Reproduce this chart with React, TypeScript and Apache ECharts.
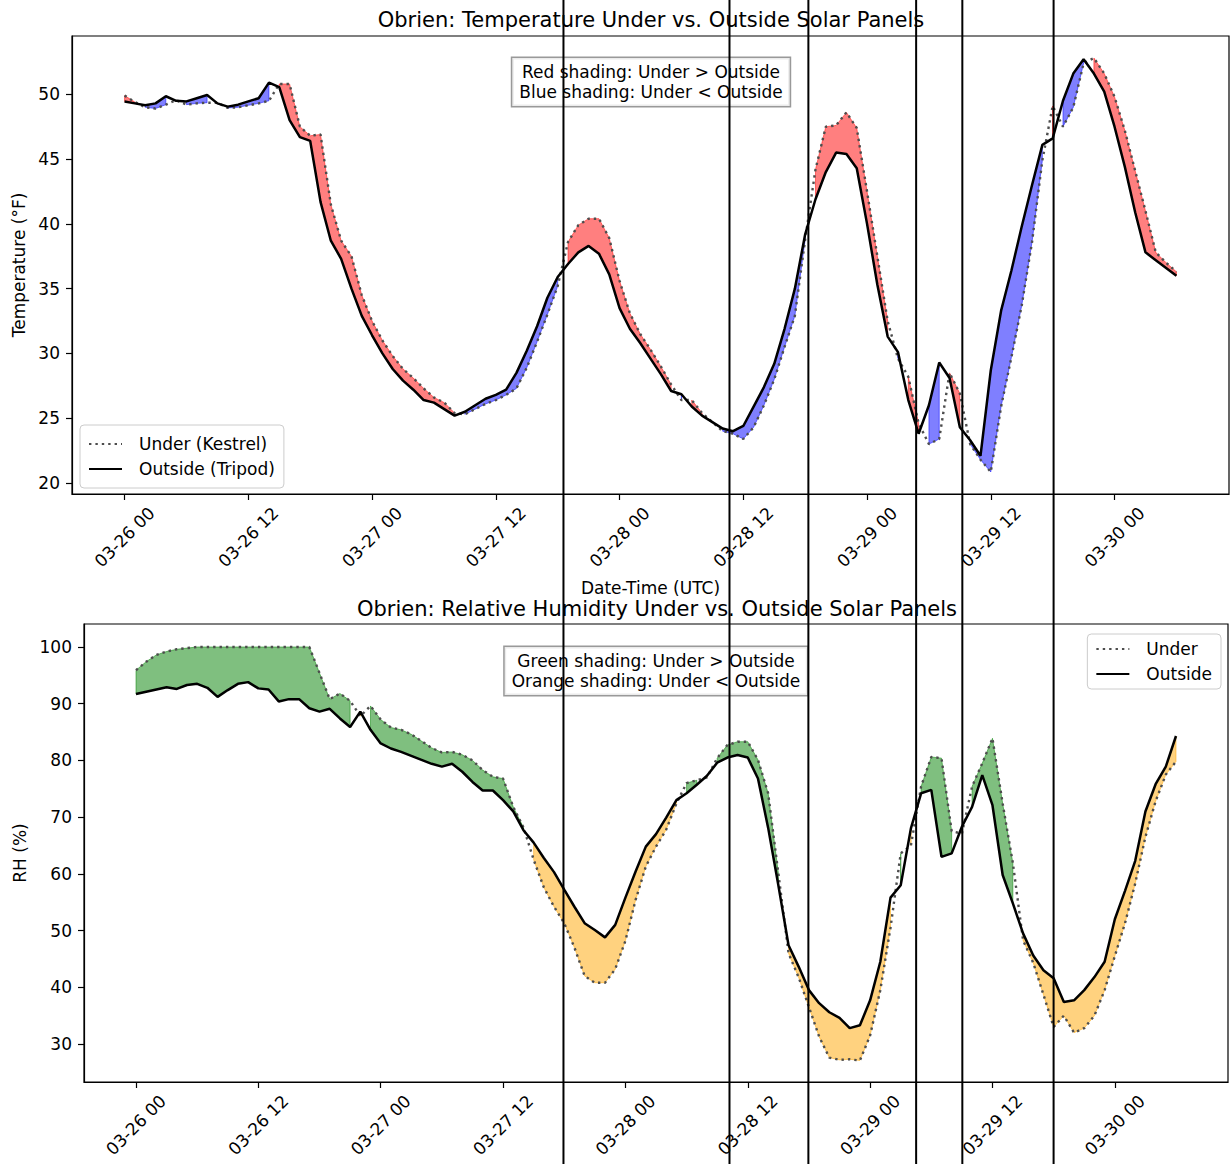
import React, { useEffect, useRef } from 'react';
import * as echarts from 'echarts';

// hourly sampling grid (hours since 03-26 00:00 UTC)
const HOURS: number[] = Array.from({ length: 103 }, (_, i) => i);

const X_TICK_HOURS = [0, 12, 24, 36, 48, 60, 72, 84, 96];
const X_TICK_LABELS = ['03-26 00', '03-26 12', '03-27 00', '03-27 12', '03-28 00', '03-28 12', '03-29 00', '03-29 12', '03-30 00'];
const TEMP_TICKS = [20, 25, 30, 35, 40, 45, 50];
const RH_TICKS = [30, 40, 50, 60, 70, 80, 90, 100];
const MARKER_HOURS = [42.56, 58.66, 66.31, 76.76, 81.24, 90.09];

const TEMP_OUTSIDE = [
  49.45, 49.3, 49.15, 49.3, 49.85, 49.5, 49.45, 49.7, 49.95, 49.3,
  49.05, 49.2, 49.45, 49.7, 50.9, 50.55, 48.0, 46.7, 46.4, 41.7,
  38.7, 37.3, 35.0, 32.9, 31.4, 30.0, 28.8, 27.9, 27.2, 26.4,
  26.2, 25.7, 25.2, 25.5, 26.0, 26.5, 26.8, 27.2, 28.5, 30.2,
  32.1, 34.3, 35.9, 36.9, 37.8, 38.3, 37.7, 36.1, 33.5, 31.9,
  30.8, 29.6, 28.4, 27.1, 26.85, 25.9, 25.2, 24.7, 24.2, 24.0,
  24.4, 25.9, 27.4, 29.2, 31.9, 35.0, 39.2, 41.9, 44.0, 45.5,
  45.4, 44.3, 40.0, 35.3, 31.3, 30.1, 26.4, 23.8, 26.0, 29.3,
  28.1, 24.3, 23.3, 22.1, 28.7, 33.3, 36.4, 39.8, 43.0, 46.1,
  46.6, 49.5, 51.6, 52.7, 51.6, 50.2, 47.5, 44.4, 40.9, 37.8,
  37.2, 36.6, 36.0,
];

const TEMP_UNDER = [
  49.9, 49.4, 49.0, 48.9, 49.2, 49.55, 49.2, 49.3, 49.35, 49.35,
  48.95, 49.0, 49.15, 49.3, 49.5, 50.8, 50.8, 47.5, 46.8, 46.9,
  41.5, 38.7, 37.5, 34.5, 32.5, 31.0, 29.8, 28.8, 28.1, 27.3,
  26.6, 26.2, 25.4, 25.3, 25.7, 26.1, 26.4, 26.8, 27.3, 28.9,
  30.9, 33.0, 35.2, 38.6, 39.9, 40.4, 40.4, 38.9, 35.6, 33.1,
  31.5, 30.3, 29.0, 27.6, 26.4, 26.4, 25.4, 24.7, 24.0, 23.8,
  23.4, 24.3, 26.0, 28.0, 30.5, 32.9, 38.8, 44.2, 47.5, 47.6,
  48.6, 47.4, 42.5, 37.5, 32.5, 29.6, 28.2, 24.6, 23.0, 23.4,
  28.5, 26.9, 23.0, 21.8, 20.85, 25.9, 29.7, 33.7, 38.6, 44.9,
  49.1, 47.5, 49.0, 52.4, 52.8, 51.6, 49.8, 47.2, 44.1, 41.0,
  37.8, 37.0, 36.3,
];

const RH_OUTSIDE = [
  91.7, 92.1, 92.5, 92.9, 92.6, 93.3, 93.5, 92.8, 91.2, 92.4,
  93.5, 93.8, 92.7, 92.5, 90.4, 90.8, 90.8, 89.2, 88.6, 89.1,
  87.4, 85.9, 88.6, 85.4, 83.0, 82.1, 81.5, 80.8, 80.1, 79.4,
  78.9, 79.4, 78.0, 76.2, 74.7, 74.7, 73.0, 71.0, 67.7, 65.5,
  62.8, 60.3, 57.2, 54.2, 51.3, 50.1, 48.8, 51.0, 55.8, 60.4,
  64.8, 67.0, 69.9, 73.0, 74.2, 75.7, 77.3, 79.6, 80.5, 80.95,
  80.5, 76.8, 68.1, 58.0, 47.4, 43.6, 39.5, 37.2, 35.6, 34.6,
  32.8, 33.3, 37.7, 44.5, 55.8, 58.0, 68.0, 74.2, 74.8, 63.0,
  63.6, 68.3, 71.8, 77.4, 72.1, 59.8, 54.8, 49.5, 45.6, 43.0,
  41.6, 37.4, 37.7, 39.5, 41.8, 44.5, 52.0, 57.0, 62.3, 71.0,
  75.8, 78.9, 84.3,
];

const RH_UNDER = [
  95.9, 97.4, 98.6, 99.2, 99.6, 99.8, 100, 100, 100, 100,
  100, 100, 100, 100, 100, 100, 100, 100, 95.4, 90.8,
  91.8, 90.5, 87.8, 89.6, 87.2, 85.8, 85.4, 84.6, 83.4, 82.2,
  81.4, 81.5, 81.0, 80.0, 78.3, 77.1, 76.8, 71.8, 68.2, 62.5,
  57.6, 54.2, 51.3, 47.0, 42.0, 40.8, 40.8, 43.2, 48.2, 55.4,
  61.3, 64.8, 67.8, 72.4, 76.0, 76.5, 77.0, 80.4, 82.7, 83.3,
  83.3, 80.1, 74.2, 60.1, 46.0, 41.7, 36.5, 31.3, 27.6, 27.2,
  27.3, 27.1, 31.5, 39.5, 50.5, 63.6, 65.0, 75.4, 80.6, 80.4,
  67.5, 67.1, 75.4, 79.5, 83.9, 72.4, 61.9, 48.3, 44.3, 38.7,
  33.0, 35.0, 32.0, 32.8, 35.0, 39.5, 45.5, 51.3, 58.3, 66.5,
  72.8, 77.5, 79.8,
];

const FONT = 'DejaVu Sans';

function runs(under: number[], outside: number[], positive: boolean): number[][] {
  const out: number[][] = [];
  let s = -1;
  for (let i = 0; i < under.length; i++) {
    const ok = positive ? under[i] > outside[i] : under[i] < outside[i];
    if (ok) {
      if (s < 0) s = i;
    } else if (s >= 0) {
      out.push([s, i - 1]);
      s = -1;
    }
  }
  if (s >= 0) out.push([s, under.length - 1]);
  return out;
}

function fillSeries(idx: number, under: number[], outside: number[], positive: boolean, color: string) {
  const data = runs(under, outside, positive).map(([s, e]) => ({ value: [HOURS[s], outside[s], s, e] }));
  return {
    type: 'custom',
    xAxisIndex: idx,
    yAxisIndex: idx,
    silent: true,
    z: 1,
    data,
    renderItem: (_params: any, api: any) => {
      const s = api.value(2);
      const e = api.value(3);
      const pts: number[][] = [];
      for (let i = s; i <= e; i++) pts.push(api.coord([HOURS[i], under[i]]));
      for (let i = e; i >= s; i--) pts.push(api.coord([HOURS[i], outside[i]]));
      return {
        type: 'polygon',
        shape: { points: pts },
        style: { fill: color, stroke: color, lineWidth: 1 },
      };
    },
  };
}

function lineSeries(idx: number, name: string, values: number[], dotted: boolean) {
  return {
    type: 'line',
    name,
    xAxisIndex: idx,
    yAxisIndex: idx,
    data: HOURS.map((h, i) => [h, values[i]]),
    symbol: 'none',
    showSymbol: false,
    z: dotted ? 3 : 4,
    itemStyle: { color: dotted ? '#4d4d4d' : '#000' },
    lineStyle: dotted
      ? { color: '#4d4d4d', width: 2.4, type: [2.4, 4] }
      : { color: '#000', width: 2.5 },
  };
}

function xAxis(gridIndex: number, name: string) {
  return {
    type: 'value',
    gridIndex,
    min: -5.1,
    max: 107.1,
    name,
    nameLocation: 'middle',
    nameGap: 85,
    nameTextStyle: { fontSize: 17, color: '#000', fontFamily: FONT },
    splitLine: { show: false },
    axisLine: { show: true, onZero: false, lineStyle: { color: '#000', width: 1.2 } },
    axisTick: { show: true, length: 6, customValues: X_TICK_HOURS, lineStyle: { color: '#000', width: 1.2 } },
    axisLabel: {
      customValues: X_TICK_HOURS,
      rotate: 45,
      align: 'center',
      verticalAlign: 'middle',
      margin: 43,
      fontSize: 17,
      color: '#000',
      fontFamily: FONT,
      formatter: (v: number) => X_TICK_LABELS[X_TICK_HOURS.indexOf(v)] ?? '',
    },
  };
}

function yAxis(gridIndex: number, name: string, min: number, max: number, ticks: number[], gap: number) {
  return {
    type: 'value',
    gridIndex,
    min,
    max,
    name,
    nameLocation: 'middle',
    nameGap: gap,
    nameTextStyle: { fontSize: 17, color: '#000', fontFamily: FONT },
    splitLine: { show: false },
    axisLine: { show: true, onZero: false, lineStyle: { color: '#000', width: 1.2 } },
    axisTick: { show: true, length: 6, customValues: ticks, lineStyle: { color: '#000', width: 1.2 } },
    axisLabel: { customValues: ticks, margin: 12, fontSize: 17, color: '#000', fontFamily: FONT },
  };
}

function legend(names: string[], pos: any, padV: number) {
  return {
    data: names,
    orient: 'vertical',
    ...pos,
    itemWidth: 33,
    itemHeight: 14,
    itemGap: 5,
    padding: [padV, 9, padV, 8],
    borderColor: '#cccccc',
    borderWidth: 1,
    borderRadius: 4,
    backgroundColor: 'rgba(255,255,255,0.8)',
    selectedMode: false,
    itemStyle: { opacity: 0 },
    textStyle: { fontSize: 17, color: '#000', fontFamily: FONT, padding: [0, 0, 0, 12], lineHeight: 20 },
  };
}

export default function App() {
  const ref = useRef<HTMLDivElement>(null);
  useEffect(() => {
    document.body.style.margin = '0';
    if (!ref.current) return;
    const chart = echarts.init(ref.current, null, { renderer: 'svg' });
    const option: any = {
      animation: false,
      backgroundColor: '#fff',
      textStyle: { fontFamily: FONT },
      title: [
        {
          text: 'Obrien: Temperature Under vs. Outside Solar Panels',
          left: 646, top: 4, textAlign: 'center',
          textStyle: { fontSize: 21, fontWeight: 'normal', color: '#000', fontFamily: FONT },
        },
        {
          text: 'Obrien: Relative Humidity Under vs. Outside Solar Panels',
          left: 652, top: 593, textAlign: 'center',
          textStyle: { fontSize: 21, fontWeight: 'normal', color: '#000', fontFamily: FONT },
        },
      ],
      grid: [
        { left: 72, top: 36, width: 1157, height: 458, show: true, borderColor: '#000', borderWidth: 1.2, backgroundColor: 'transparent' },
        { left: 84, top: 624, width: 1144, height: 458, show: true, borderColor: '#000', borderWidth: 1.2, backgroundColor: 'transparent' },
      ],
      xAxis: [xAxis(0, 'Date-Time (UTC)'), xAxis(1, '')],
      yAxis: [
        yAxis(0, 'Temperature (°F)', 19.15, 54.5, TEMP_TICKS, 44),
        yAxis(1, 'RH (%)', 23.3, 104.05, RH_TICKS, 56),
      ],
      legend: [
        legend(['Under (Kestrel)', 'Outside (Tripod)'], { left: 80, top: 425 }, 9),
        legend(['Under', 'Outside'], { right: 9, top: 634 }, 5),
      ],
      series: [
        fillSeries(0, TEMP_UNDER, TEMP_OUTSIDE, true, 'rgba(255,0,0,0.5)'),
        fillSeries(0, TEMP_UNDER, TEMP_OUTSIDE, false, 'rgba(0,0,255,0.5)'),
        lineSeries(0, 'Under (Kestrel)', TEMP_UNDER, true),
        lineSeries(0, 'Outside (Tripod)', TEMP_OUTSIDE, false),
        fillSeries(1, RH_UNDER, RH_OUTSIDE, true, 'rgba(0,128,0,0.5)'),
        fillSeries(1, RH_UNDER, RH_OUTSIDE, false, 'rgba(255,165,0,0.5)'),
        lineSeries(1, 'Under', RH_UNDER, true),
        lineSeries(1, 'Outside', RH_OUTSIDE, false),
      ],
    };
    chart.setOption(option);

    const boxStyle = {
      fontSize: 17,
      lineHeight: 20,
      fill: '#000',
      fontFamily: FONT,
      align: 'center',
      verticalAlign: 'top',
      backgroundColor: 'rgba(255,255,255,0.8)',
      borderColor: '#999',
      borderWidth: 1.5,
      padding: [4, 7, 4, 7],
    };
    const elements: any[] = [
      {
        type: 'text', id: 'box0', x: 651, y: 58, z: 50,
        style: { ...boxStyle, text: 'Red shading: Under > Outside\nBlue shading: Under < Outside' },
      },
      {
        type: 'text', id: 'box1', x: 656, y: 647, z: 50,
        style: { ...boxStyle, text: 'Green shading: Under > Outside\nOrange shading: Under < Outside' },
      },
    ];
    MARKER_HOURS.forEach((h, i) => {
      const x = chart.convertToPixel({ xAxisIndex: 0 }, h) as number;
      elements.push({
        type: 'line', id: 'vl' + i, z: 100, silent: true,
        shape: { x1: x, y1: 0, x2: x, y2: 1164 },
        style: { stroke: '#000', lineWidth: 2 },
      });
    });
    chart.setOption({ graphic: { elements } });

    return () => chart.dispose();
  }, []);
  return <div ref={ref} style={{ width: 1230, height: 1164 }} />;
}
